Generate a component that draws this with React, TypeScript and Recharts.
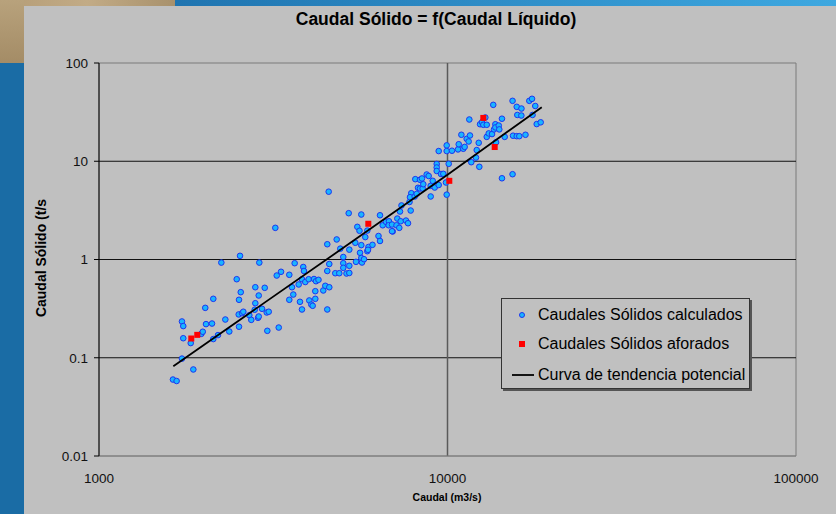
import React from "react";
import {
  ScatterChart,
  Scatter,
  XAxis,
  YAxis,
  ReferenceLine,
  ReferenceArea,
} from "recharts";

// ticks
const xTicks = [1000, 10000, 100000];
const yTicks = [0.01, 0.1, 1, 10, 100];
const yGrid = [0.1, 1, 10];
const xGrid = [10000];

// [caudal m3/s, caudal sólido t/s]
const calculados: [number, number][] = [
  [1630, 0.06], [1670, 0.058], [1730, 0.098], [1730, 0.234], [1745, 0.21],
  [1745, 0.158], [1833, 0.141], [1865, 0.076], [1966, 0.175], [1985, 0.184],
  [2018, 0.322], [2028, 0.22], [2110, 0.223], [2128, 0.398], [2128, 0.155],
  [2195, 0.17], [2244, 0.93], [2304, 0.245], [2365, 0.185], [2484, 0.63],
  [2517, 0.276], [2522, 0.389], [2522, 0.207], [2539, 1.09], [2551, 0.465],
  [2573, 0.284], [2595, 0.294], [2700, 0.271], [2735, 0.243], [2798, 0.308],
  [2809, 0.522], [2809, 0.359], [2860, 0.255], [2873, 0.263], [2873, 0.43],
  [2884, 0.93], [2936, 0.315], [2989, 0.515], [3029, 0.289], [3069, 0.294],
  [3041, 0.188], [3206, 2.1], [3236, 0.687], [3279, 0.203], [3329, 0.75],
  [3516, 0.699], [3516, 0.389], [3579, 0.522], [3610, 0.44], [3643, 0.917],
  [3741, 0.557], [3773, 0.371], [3823, 0.31], [3823, 0.63], [3856, 0.839],
  [3874, 0.764], [3908, 0.59], [3996, 0.63], [4012, 0.383], [4066, 0.348],
  [4103, 0.338], [4139, 0.633], [4175, 0.476], [4175, 0.398], [4194, 0.601],
  [4264, 0.621], [4401, 0.484], [4460, 0.54], [4519, 0.764], [4519, 0.31],
  [4519, 1.43], [4561, 4.9], [4579, 0.9], [4579, 0.522], [4764, 0.725],
  [4809, 1.6], [4892, 0.725], [4925, 1.29], [5023, 1.06], [5023, 0.917],
  [5023, 0.823], [5131, 0.72], [5206, 2.96], [5227, 1.26], [5227, 0.863],
  [5227, 0.729], [5438, 1.48], [5463, 0.947], [5511, 2.15], [5591, 1.96],
  [5610, 1.17], [5658, 2.87], [5658, 1.4], [5658, 1.036], [5684, 0.932],
  [5760, 1.007], [5809, 1.69], [5887, 1.97], [5887, 1.215], [5933, 1.34],
  [5914, 1.255], [6092, 1.41], [6339, 1.735], [6402, 1.543], [6402, 2.82],
  [6963, 1.93], [6518, 2.23], [6660, 2.42], [6793, 2.45], [6780, 2.23],
  [6931, 2.27], [6931, 1.94], [7140, 2.23], [7178, 2.61], [7272, 2.1],
  [7306, 3.08], [7339, 2.45], [7379, 3.55], [7601, 2.49], [7703, 2.34],
  [7780, 3.85], [7841, 3.15], [7872, 4.73], [7805, 4.31], [8052, 4.38],
  [8084, 6.57], [8159, 4.66], [8229, 5.37], [8338, 6.48], [8338, 5.28],
  [8448, 6.68], [8487, 5.28], [8522, 5.84], [8715, 7.33], [8830, 7.08],
  [8948, 5.62], [8948, 4.38], [9069, 6.32], [9190, 5.4], [9312, 9.38],
  [9312, 8.64], [9312, 7.96], [9435, 5.73], [9435, 12.7], [9579, 7.42],
  [9727, 7.45], [9901, 6.08], [9947, 14.5], [9947, 12.7], [9947, 4.57],
  [10080, 9.42], [10300, 12.8], [10720, 13.2], [10770, 14.9], [10960, 18.6],
  [11100, 13.4], [11200, 14.0], [11350, 16.9], [11500, 15.9], [11550, 26.6],
  [11600, 18.3], [11700, 9.78], [12070, 10.9], [12130, 13.0], [12290, 15.4],
  [12340, 8.78], [12400, 23.8], [12560, 25.0], [12670, 23.5], [12840, 27.9],
  [12960, 23.5], [12960, 17.7], [13130, 19.2], [13420, 18.9], [13530, 37.5],
  [13600, 21.1], [13720, 23.8], [13720, 22.1], [13780, 15.6], [14030, 23.1],
  [14080, 21.1], [14330, 27.1], [14330, 6.71], [14590, 17.7], [15370, 41.2],
  [15370, 7.38], [15420, 18.2], [15800, 35.8], [15800, 18.0], [15860, 29.6],
  [16070, 18.0], [16300, 34.4], [16290, 29.2], [16740, 18.6], [17170, 41.2],
  [17480, 43.2], [17540, 29.6], [17860, 36.5], [18030, 23.9], [18510, 24.9],
];

const aforados: [number, number][] = [
  [1840, 0.157], [1914, 0.171], [5926, 2.31], [10120, 6.32], [12670, 27.6],
  [13660, 13.96],
];

const tendencia: [number, number][] = [
  [1634, 0.082], [5000, 1.3], [10000, 7.3], [18640, 35.5],
];

const toPoints = (rows: [number, number][]) => rows.map(([q, s]) => ({ q, s }));

const BlueDot = (props: any) => {
  const { cx, cy } = props;
  if (cx == null || cy == null) return <g />;
  return <circle cx={cx} cy={cy} r={2.8} fill="#19b5ff" stroke="#1d35f0" strokeWidth={1} />;
};

const RedSquare = (props: any) => {
  const { cx, cy } = props;
  if (cx == null || cy == null) return <g />;
  return <rect x={cx - 3} y={cy - 3} width={6} height={6} fill="#ff0000" />;
};

const NoDot = () => <g />;

const sans = '"Liberation Sans", Arial, sans-serif';
const narrow = '"Liberation Sans Narrow", "Arial Narrow", "Liberation Sans", Arial, sans-serif';

const LegendBox = () => {
  const row = (top: number, marker: React.ReactNode, text: string) => (
    <div style={{ position: "absolute", left: 0, top, height: 18, width: "100%" }}>
      <div style={{ position: "absolute", left: 0, top: 0, width: 36, height: 18 }}>{marker}</div>
      <span style={{ position: "absolute", left: 36, top: 0, lineHeight: "18px", whiteSpace: "nowrap" }}>
        {text}
      </span>
    </div>
  );
  return (
    <div
      style={{
        position: "absolute",
        left: 501,
        top: 298,
        width: 249,
        height: 91,
        background: "#c0c0c0",
        border: "1px solid #333",
        boxShadow: "2px 2px 0 #555",
        boxSizing: "border-box",
        fontFamily: sans,
        fontSize: 16,
        color: "#000",
      }}
    >
      {row(
        7,
        <svg width={36} height={18}>
          <circle cx={20} cy={9} r={2.5} fill="#19b5ff" stroke="#1d35f0" strokeWidth={1} />
        </svg>,
        "Caudales Sólidos calculados"
      )}
      {row(
        36,
        <svg width={36} height={18}>
          <rect x={17} y={6} width={6} height={6} fill="#ff0000" />
        </svg>,
        "Caudales Sólidos aforados"
      )}
      {row(
        67,
        <svg width={36} height={18}>
          <line x1={10} y1={9} x2={32} y2={9} stroke="#000" strokeWidth={1.8} />
        </svg>,
        "Curva de tendencia potencial"
      )}
    </div>
  );
};

export default function App() {
  return (
    <div style={{ position: "absolute", left: 0, top: 0, width: 836, height: 514, overflow: "hidden", background: "#1a6ca5" }}>
      {/* background strips */}
      <div style={{ position: "absolute", left: 175, top: 0, width: 661, height: 6, background: "linear-gradient(to right, #1f74b0, #3ea8e0)" }} />
      <div style={{ position: "absolute", left: 0, top: 0, width: 175, height: 6, background: "linear-gradient(to right, #b49c76, #c2ab86, #a8916c)" }} />
      <div style={{ position: "absolute", left: 0, top: 0, width: 24, height: 63, background: "linear-gradient(to bottom, #b8a27c, #a48c66)" }} />
      <div style={{ position: "absolute", left: 24, top: 6, width: 812, height: 508, background: "#c0c0c0" }} />

      <div
        style={{
          position: "absolute",
          left: 36,
          top: 9,
          width: 800,
          textAlign: "center",
          fontFamily: narrow,
          fontWeight: "bold",
          fontSize: 17.5,
          color: "#000",
        }}
      >
        Caudal Sólido = f(Caudal Líquido)
      </div>

      <div
        style={{
          position: "absolute",
          left: 41,
          top: 258,
          transform: "translate(-50%, -50%) rotate(-90deg)",
          fontFamily: sans,
          fontWeight: "bold",
          fontSize: 14,
          whiteSpace: "nowrap",
          color: "#000",
        }}
      >
        Caudal Sólido (t/s
      </div>

      <div
        style={{
          position: "absolute",
          left: 347,
          top: 491,
          width: 200,
          textAlign: "center",
          fontFamily: narrow,
          fontWeight: "bold",
          fontSize: 10.5,
          color: "#000",
        }}
      >
        Caudal (m3/s)
      </div>

      <div style={{ position: "absolute", left: 0, top: 0 }}>
        <ScatterChart width={836} height={514} margin={{ top: 63, right: 40, bottom: 28, left: 39 }}>
          <XAxis
            type="number"
            dataKey="q"
            scale="log"
            domain={[1000, 100000]}
            ticks={xTicks}
            allowDataOverflow
            height={30}
            tickLine={false}
            tickSize={0}
            tickMargin={17}
            axisLine={{ stroke: "#808080" }}
            tick={{ fontSize: 13.5, fill: "#111", fontFamily: sans }}
          />
          <YAxis
            type="number"
            dataKey="s"
            scale="log"
            domain={[0.01, 100]}
            ticks={yTicks}
            allowDataOverflow
            width={60}
            tickSize={5}
            tickMargin={6}
            tickLine={{ stroke: "#000" }}
            axisLine={{ stroke: "#000" }}
            tick={{ fontSize: 13.5, fill: "#111", fontFamily: sans }}
          />
          <ReferenceArea x1={1000} x2={100000} y1={0.01} y2={100} fill="none" stroke="#7a7a7a" strokeWidth={1} ifOverflow="visible" />
          {yGrid.map((v) => (
            <ReferenceLine key={"y" + v} y={v} stroke="#111" strokeWidth={1} />
          ))}
          {xGrid.map((v) => (
            <ReferenceLine key={"x" + v} x={v} stroke="#5a5a5a" strokeWidth={1.5} />
          ))}
          <Scatter
            name="Caudales Sólidos calculados"
            data={toPoints(calculados)}
            shape={BlueDot}
            isAnimationActive={false}
          />
          <Scatter
            name="Caudales Sólidos aforados"
            data={toPoints(aforados)}
            shape={RedSquare}
            isAnimationActive={false}
          />
          <Scatter
            name="Curva de tendencia potencial"
            data={toPoints(tendencia)}
            shape={NoDot}
            line={{ stroke: "#000", strokeWidth: 1.8 }}
            isAnimationActive={false}
          />
        </ScatterChart>
      </div>
      <LegendBox />
    </div>
  );
}
